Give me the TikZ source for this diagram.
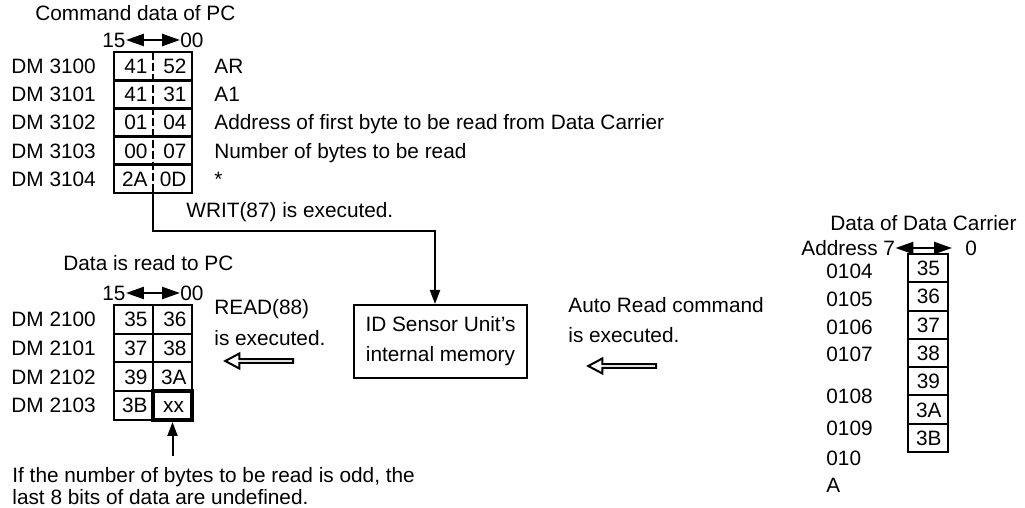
\documentclass[tikz,border=0pt]{standalone}
\usepackage{fontspec}
\setmainfont{Liberation Sans}
\usepackage{tikz}
\usetikzlibrary{arrows.meta,positioning,shapes.arrows}
\newcommand{\figfont}{\fontsize{10.4}{12}\selectfont}
\tikzset{
    lbl/.style={anchor=west, inner sep=0pt, text height=7.4pt, text depth=0pt},
    byte/.style={inner xsep=2.75pt, inner ysep=0pt, text width=14pt, align=right, text height=7.4pt, text depth=0pt, minimum height=14.1pt},
    pcell/.style={byte, draw, line width=1pt, minimum height=14.4pt},
    ccell/.style={pcell, text width=12pt, inner xsep=4pt, minimum height=14.15pt},
    frame/.style={draw, line width=1pt},
    divider/.style={line width=1pt, dash pattern=on 4pt off 1.5pt},
    membox/.style={draw, line width=1pt, minimum width=86.5pt, minimum height=36.5pt, align=center, inner sep=0pt},
    flow/.style={-{Triangle[length=7pt,width=5pt]}, line width=1pt},
    bits/.style={{Triangle[length=9pt,width=6pt]}-{Triangle[length=9pt,width=6pt]}, line width=1.2pt},
    hollow/.style={single arrow, draw, line width=1pt, shape border rotate=180, minimum height=34pt, minimum width=7.5pt, single arrow head extend=1.5pt, single arrow tip angle=56, inner sep=0pt}
}

\begin{document}
\begin{tikzpicture}[x=0.5pt, y=-0.5pt, font=\figfont]
  \useasboundingbox (0,0) rectangle (1025,508);

  % Command data of PC
  \node[lbl] (cmdtitle) at (35,13) {Command data of PC};
  \node[lbl] (cmdhi) at (102,40) {15};
  \node[lbl] (cmdlo) at (180,40) {00};
  \draw[bits] (cmdhi.east) -- (cmdlo.west);

  \node[lbl] (dm3100) at (11,66.1) {DM 3100};
  \node[lbl] (dm3101) at (11,94.3) {DM 3101};
  \node[lbl] (dm3102) at (11,122.5) {DM 3102};
  \node[lbl] (dm3103) at (11,150.7) {DM 3103};
  \node[lbl] (dm3104) at (11,178.9) {DM 3104};

  \node[byte] (u0h) at (133.5,66.1) {41};
  \node[byte] (u0l) at (172.5,66.1) {52};
  \node[byte] (u1h) at (133.5,94.3) {41};
  \node[byte] (u1l) at (172.5,94.3) {31};
  \node[byte] (u2h) at (133.5,122.5) {01};
  \node[byte] (u2l) at (172.5,122.5) {04};
  \node[byte] (u3h) at (133.5,150.7) {00};
  \node[byte] (u3l) at (172.5,150.7) {07};
  \node[byte] (u4h) at (133.5,178.9) {2A};
  \node[byte] (u4l) at (172.5,178.9) {0D};
  \draw[frame] (u0h.north west) rectangle (u0l.south east);
  \draw[frame] (u1h.north west) rectangle (u1l.south east);
  \draw[frame] (u2h.north west) rectangle (u2l.south east);
  \draw[frame] (u3h.north west) rectangle (u3l.south east);
  \draw[frame] (u4h.north west) rectangle (u4l.south east);
  \draw[divider] (u0h.north east) -- (u4h.south east);

  \node[lbl] (note0) at (214,66.1) {AR};
  \node[lbl] (note1) at (214,94.3) {A1};
  \node[lbl] (note2) at (214,122.5) {Address of first byte to be read from Data Carrier};
  \node[lbl] (note3) at (214,150.7) {Number of bytes to be read};
  \node[lbl] (note4) at (214,178.9) {*};

  \node[lbl] (writ) at (186,210) {WRIT(87) is executed.};

  % ID Sensor Unit
  \node[membox] (mem) at (440.5,341.5) {ID Sensor Unit’s\\[3pt]internal memory};
  \coordinate (wturn) at (435,231);
  \draw[flow] (u4h.south east) |- (wturn) -- (wturn |- mem.north);

  % Data is read to PC
  \node[lbl] (readtitle) at (63,263) {Data is read to PC};
  \node[lbl] (readhi) at (102,293) {15};
  \node[lbl] (readlo) at (180,293) {00};
  \draw[bits] (readhi.east) -- (readlo.west);

  \node[lbl] (dm2100) at (11,319.4) {DM 2100};
  \node[lbl] (dm2101) at (11,348.1) {DM 2101};
  \node[lbl] (dm2102) at (11,376.9) {DM 2102};
  \node[lbl] (dm2103) at (11,405.6) {DM 2103};

  \node[pcell] (d0h) at (133.5,319.4) {35};
  \node[pcell] (d0l) at (172.5,319.4) {36};
  \node[pcell] (d1h) at (133.5,348.1) {37};
  \node[pcell] (d1l) at (172.5,348.1) {38};
  \node[pcell] (d2h) at (133.5,376.9) {39};
  \node[pcell] (d2l) at (172.5,376.9) {3A};
  \node[pcell] (d3h) at (133.5,405.6) {3B};
  \node[pcell, line width=2pt, inner xsep=4pt, text width=11.5pt] (d3l) at (172.5,405.6) {xx};

  \node[lbl] (readcmd) at (214,307) {READ(88)};
  \node[lbl] (readexec) at (214,338) {is executed.};
  \node[hollow] (readarr) at (261,361) {};

  \coordinate (xxfoot) at (172.5,456);
  \draw[flow] (xxfoot) -- (d3l.south);
  \node[lbl] (odd1) at (12,475) {If the number of bytes to be read is odd, the};
  \node[lbl] (odd2) at (12,497) {last 8 bits of data are undefined.};

  % Auto Read
  \node[lbl] (autocmd) at (568,305) {Auto Read command};
  \node[lbl] (autoexec) at (568,335) {is executed.};
  \node[hollow] (autoarr) at (624,366) {};

  % Data of Data Carrier
  \node[lbl] (cartitle) at (830,223) {Data of Data Carrier};
  \node[lbl] (addr) at (801,248) {Address 7};
  \node[lbl] (bit0) at (965,248) {0};
  \draw[bits] (addr.east) -- ([xshift=-6.5pt]bit0.west);

  \node[ccell] (c0) at (928,268.1) {35};
  \node[ccell] (c1) at (928,296.4) {36};
  \node[ccell] (c2) at (928,324.7) {37};
  \node[ccell] (c3) at (928,353.0) {38};
  \node[ccell] (c4) at (928,381.3) {39};
  \node[ccell] (c5) at (928,409.6) {3A};
  \node[ccell] (c6) at (928,437.9) {3B};

  \node[lbl] (a0104) at (826,271) {0104};
  \node[lbl] (a0105) at (826,299) {0105};
  \node[lbl] (a0106) at (826,327) {0106};
  \node[lbl] (a0107) at (826,354) {0107};
  \node[lbl] (a0108) at (826,396) {0108};
  \node[lbl] (a0109) at (826,428) {0109};
  \node[lbl] (a010) at (826,458) {010};
  \node[lbl] (aA) at (826,485) {A};
\end{tikzpicture}
\end{document}
